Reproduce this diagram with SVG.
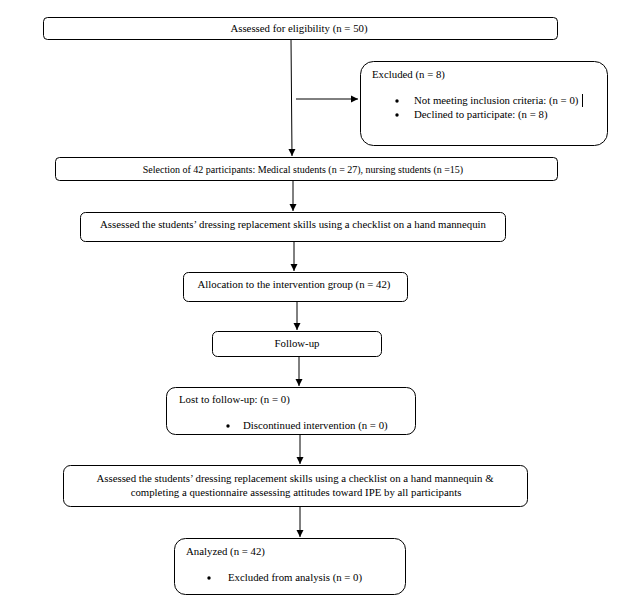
<svg xmlns="http://www.w3.org/2000/svg" width="624" height="616" viewBox="0 0 624 616">
<style>
.b{fill:#fff;stroke:#000;stroke-width:1}
.t{font-family:"Liberation Serif","Times New Roman",serif;font-size:10.8px;fill:#000}
.s{font-size:10px}
.m{text-anchor:middle}
.c{stroke:#000;stroke-width:1;fill:none}
</style>
<defs>
<marker id="a" markerWidth="8" markerHeight="8" refX="7" refY="4" orient="auto" markerUnits="userSpaceOnUse">
<path d="M0,0.5 L7,4 L0,7.5 Z" fill="#000"/>
</marker>
</defs>
<rect width="624" height="616" fill="#fff"/>
<g id="connectors">
<line class="c" x1="291" y1="39" x2="292" y2="156" marker-end="url(#a)"/>
<line class="c" x1="296" y1="99" x2="358" y2="99" marker-end="url(#a)"/>
<line class="c" x1="293" y1="180" x2="293" y2="211" marker-end="url(#a)"/>
<line class="c" x1="294" y1="241" x2="294" y2="271" marker-end="url(#a)"/>
<line class="c" x1="297" y1="301" x2="297" y2="330" marker-end="url(#a)"/>
<line class="c" x1="299" y1="356" x2="299" y2="386" marker-end="url(#a)"/>
<line class="c" x1="300" y1="434" x2="300" y2="464" marker-end="url(#a)"/>
<line class="c" x1="300" y1="506" x2="300" y2="537" marker-end="url(#a)"/>
</g>
<g id="n1">
<rect class="b" x="43.5" y="17.5" width="514" height="22" rx="4"/>
<text class="t m" x="299" y="32">Assessed for eligibility (n = 50)</text>
</g>
<g id="n2">
<rect class="b" x="360.5" y="61.5" width="247" height="84" rx="13"/>
<text class="t" x="372" y="78">Excluded (n = 8)</text>
<circle cx="397" cy="101" r="1.7" fill="#000"/>
<text class="t" x="414" y="104">Not meeting inclusion criteria: (n = 0)</text>
<line x1="582.5" y1="94" x2="582.5" y2="107" stroke="#000" stroke-width="1"/>
<circle cx="397" cy="115" r="1.7" fill="#000"/>
<text class="t" x="414" y="118">Declined to participate: (n = 8)</text>
</g>
<g id="n3">
<rect class="b" x="55.5" y="157.5" width="502" height="23" rx="4"/>
<text class="t s m" x="303" y="173">Selection of 42 participants: Medical students (n = 27), nursing students (n =15)</text>
</g>
<g id="n4">
<rect class="b" x="80.5" y="212.5" width="425" height="29" rx="5"/>
<text class="t m" x="293" y="228">Assessed the students’ dressing replacement skills using a checklist on a hand mannequin</text>
</g>
<g id="n5">
<rect class="b" x="183.5" y="272.5" width="224" height="29" rx="5"/>
<text class="t m" x="294" y="288">Allocation to the intervention group (n = 42)</text>
</g>
<g id="n6">
<rect class="b" x="212.5" y="331.5" width="169" height="25" rx="5"/>
<text class="t m" x="297" y="347">Follow-up</text>
</g>
<g id="n7">
<rect class="b" x="166.5" y="387.5" width="249" height="47" rx="9"/>
<text class="t" x="179" y="403">Lost to follow-up: (n = 0)</text>
<circle cx="228" cy="426" r="1.7" fill="#000"/>
<text class="t" x="243" y="429">Discontinued intervention (n = 0)</text>
</g>
<g id="n8">
<rect class="b" x="63.5" y="465.5" width="464" height="41" rx="7"/>
<text class="t m" x="295" y="482">Assessed the students’ dressing replacement skills using a checklist on a hand mannequin &amp;</text>
<text class="t m" x="296" y="496">completing a questionnaire assessing attitudes toward IPE by all participants</text>
</g>
<g id="n9">
<rect class="b" x="174.5" y="538.5" width="231" height="56" rx="11"/>
<text class="t" x="186" y="555">Analyzed (n = 42)</text>
<circle cx="209" cy="578" r="1.7" fill="#000"/>
<text class="t" x="228" y="581">Excluded from analysis (n = 0)</text>
</g>
</svg>
